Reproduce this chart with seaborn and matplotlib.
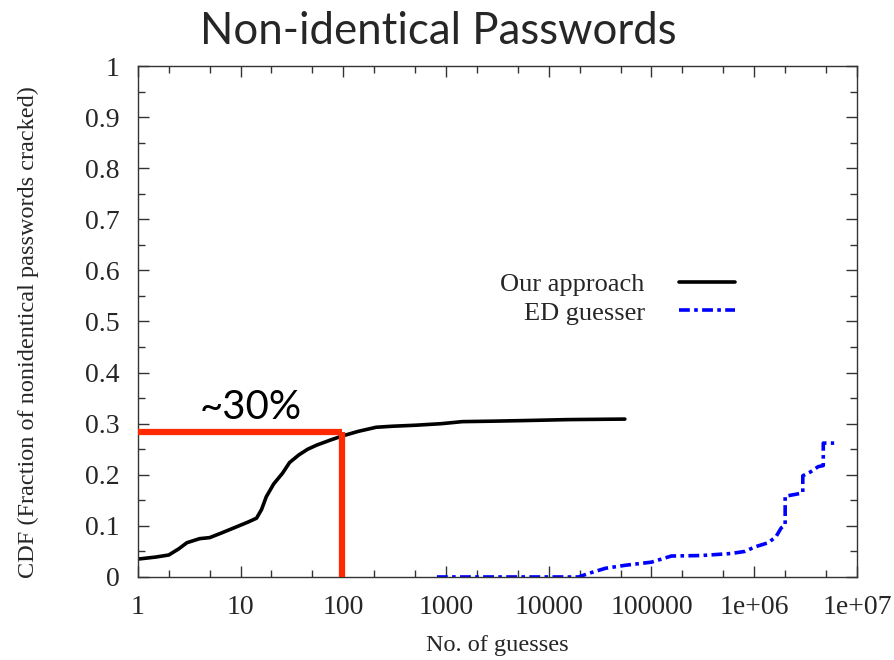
import numpy as np
import pandas as pd
import matplotlib
matplotlib.use("Agg")
import matplotlib.pyplot as plt
from matplotlib.ticker import FixedLocator, NullFormatter
import seaborn as sns

# --- data -------------------------------------------------------------
# Our approach: guesses vs. fraction of nonidentical passwords cracked
ours_guesses = [1, 1.5, 2, 2.5, 3, 4, 5, 6.5, 9.1, 12, 14.3, 16, 17.8, 21,
                25.6, 30, 37, 45, 55, 75, 98, 140, 209, 300, 510, 900,
                1440, 3000, 5500, 15500, 55000]
ours_frac = [0.035, 0.039, 0.043, 0.055, 0.067, 0.075, 0.077, 0.086, 0.098,
             0.108, 0.115, 0.132, 0.157, 0.182, 0.203, 0.224, 0.239, 0.250,
             0.258, 0.268, 0.276, 0.285, 0.293, 0.295, 0.297, 0.300, 0.304,
             0.305, 0.306, 0.308, 0.309]

# ED guesser (stepwise CDF)
ed_guesses = [815, 19500, 24500, 35600, 56000, 1.0e5, 1.56e5, 3.1e5, 6.0e5,
              8.1e5, 1.02e6, 1.37e6, 1.63e6, 1.83e6, 2.0e6, 2.0e6, 2.9e6,
              2.97e6, 2.97e6, 3.56e6, 4.2e6, 4.7e6, 4.7e6, 6.0e6]
ed_frac = [0.0, 0.0, 0.007, 0.017, 0.023, 0.029, 0.041, 0.042, 0.046,
           0.050, 0.059, 0.067, 0.079, 0.096, 0.102, 0.158, 0.164,
           0.166, 0.198, 0.206, 0.216, 0.218, 0.262, 0.262]

# highlighted point: ~30% cracked within ~100 guesses
mark_guesses = 98
mark_frac = 0.284

x_ticks = [1, 10, 100, 1000, 10000, 100000, 1e6, 1e7]
x_tick_labels = ["1", "10", "100", "1000", "10000", "100000", "1e+06", "1e+07"]
y_ticks = [0, 0.1, 0.2, 0.3, 0.4, 0.5, 0.6, 0.7, 0.8, 0.9, 1.0]
y_tick_labels = ["0", "0.1", "0.2", "0.3", "0.4", "0.5", "0.6", "0.7", "0.8", "0.9", "1"]

ours = pd.DataFrame({"guesses": ours_guesses, "frac": ours_frac})
ed = pd.DataFrame({"guesses": ed_guesses, "frac": ed_frac})

# --- style ------------------------------------------------------------
sns.set_style("ticks")
plt.rcParams["font.family"] = ["Liberation Serif", "DejaVu Serif"]
plt.rcParams["xtick.direction"] = "in"
plt.rcParams["ytick.direction"] = "in"

fig = plt.figure(figsize=(8.95, 6.6), dpi=100)
ax = fig.add_axes([0.154, 0.1258, 0.8035, 0.7742])

sns.lineplot(data=ours, x="guesses", y="frac", ax=ax, color="black",
             linewidth=2.6, estimator=None, sort=False, label="Our approach")
sns.lineplot(data=ed, x="guesses", y="frac", ax=ax, color="#0000FF",
             linewidth=2.6, estimator=None, sort=False, label="ED guesser",
             linestyle=(0, (3, 1.2, 1, 1.2)))

# red guide lines
red = "#FF2A00"
ax.plot([1, mark_guesses], [mark_frac, mark_frac], color=red, lw=4.5,
        solid_capstyle="butt", clip_on=False, zorder=5)
ax.plot([mark_guesses, mark_guesses], [0, mark_frac], color=red, lw=4.5,
        solid_capstyle="butt", zorder=5)
ax.text(10 ** 1.10, mark_frac + 0.012, "~30%", color="black",
        fontsize=29, family=["Lato", "DejaVu Sans"], ha="center", va="bottom")

# --- axes -------------------------------------------------------------
ax.set_xscale("log")
ax.set_xlim(1, 1e7)
ax.set_ylim(0, 1)
ax.set_xticks(x_ticks)
ax.set_xticklabels(x_tick_labels)
minor_x = [m * 10 ** e for e in range(0, 7) for m in (2, 5)]
ax.xaxis.set_minor_locator(FixedLocator(minor_x))
ax.xaxis.set_minor_formatter(NullFormatter())
ax.set_yticks(y_ticks)
ax.set_yticklabels(y_tick_labels)
ax.yaxis.set_minor_locator(FixedLocator([v + 0.05 for v in y_ticks[:-1]]))

ax.tick_params(which="both", direction="in", top=True, right=True,
               labelsize=20, color="#333333", width=1.0)
ax.tick_params(which="major", length=8)
ax.tick_params(axis="x", which="major", pad=13)
ax.tick_params(axis="y", which="major", pad=13)
ax.tick_params(which="minor", length=5)
for s in ax.spines.values():
    s.set_visible(True)
    s.set_linewidth(1.0)
    s.set_color("#333333")

ax.set_xlabel("No. of guesses", fontsize=17.5)
ax.xaxis.set_label_coords(0.5, -0.113)
ax.set_ylabel("CDF (Fraction of nonidentical passwords cracked)",
              fontsize=17.5)
ax.yaxis.set_label_coords(-0.137, 0.48)

leg = ax.legend(loc="center", bbox_to_anchor=(0.667, 0.545), frameon=False,
                markerfirst=False, fontsize=19, handlelength=2.1,
                handletextpad=1.3, labelspacing=0.2, borderpad=0)

fig.suptitle("Non-identical Passwords", fontsize=31.5,
             family=["Lato", "DejaVu Sans"], x=0.49, y=0.983, va="top")

fig.savefig("out.png", dpi=100)
